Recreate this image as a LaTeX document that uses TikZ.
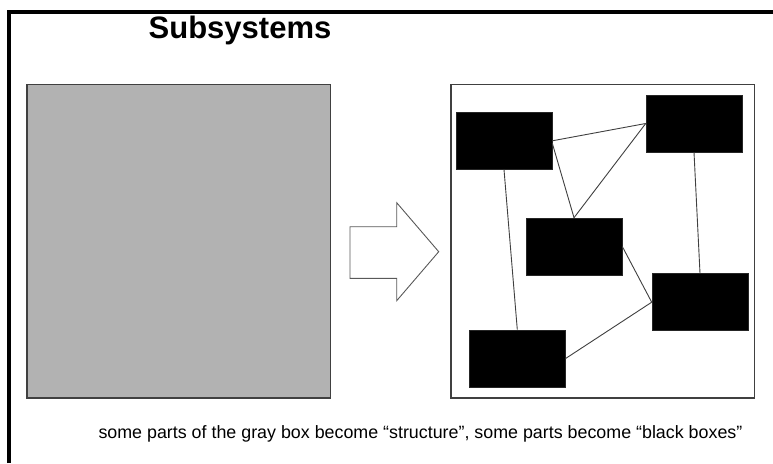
\documentclass[tikz,border=0pt]{standalone}
\usepackage{fontspec}
\setmainfont{Liberation Sans}
\begin{document}
\begin{tikzpicture}[x=1pt,y=-1pt,
  blackbox/.style={rectangle,fill=black,draw=black!85,line width=0.6pt,minimum width=96pt,minimum height=57pt,inner sep=0pt},
  link/.style={draw=black!75,line width=0.9pt},
  frameline/.style={draw=black,line width=3.7pt,line join=miter},
  panel/.style={draw=black!75,line width=1.2pt}]
\useasboundingbox (0,0) rectangle (773,463);
\fill[white] (0,0) rectangle (773,463);
% frame
\draw[frameline] (9.2,463) -- (9.2,12) -- (773,12);
% title
\node[anchor=base,inner sep=0pt,font=\fontsize{31}{36}\selectfont\bfseries] (title) at (240,38) {Subsystems};
% gray box
\node[panel,fill=black!30,minimum width=303.5pt,minimum height=313.5pt,inner sep=0pt] (gray) at (178.75,241.25) {};
% arrow
\draw[draw=black!65,line width=0.9pt,fill=white,line join=miter] (350,226.7) -- (396.7,226.7) -- (396.7,202.7) -- (438.7,251.7) -- (396.7,300.7) -- (396.7,278.3) -- (350,278.3) -- cycle;
% right panel
\node[panel,fill=white,minimum width=303.3pt,minimum height=313.3pt,inner sep=0pt] (panel) at (602.65,241.35) {};
% black boxes
\node[blackbox] (A) at (504,140.8) {};
\node[blackbox] (B) at (694,123.5) {};
\node[blackbox] (C) at (574,246.5) {};
\node[blackbox] (D) at (700,302.2) {};
\node[blackbox] (E) at (517.3,358.5) {};
% connectors
\draw[link] (A.east) -- (B.west);
\draw[link] ([yshift=-2.5pt]A.east) -- (C.north);
\draw[link] (C.north) -- (B.west);
\draw[link] (A.south) -- (E.north);
\draw[link] (B.south) -- (D.north);
\draw[link] (C.east) -- (D.west);
\draw[link] (E.east) -- (D.west);
% caption
\node[anchor=base west,inner sep=0pt,font=\fontsize{17.85}{21}\selectfont] (caption) at (98.3,438.3) {some parts of the gray box become “structure”, some parts become “black boxes”};
\end{tikzpicture}
\end{document}
